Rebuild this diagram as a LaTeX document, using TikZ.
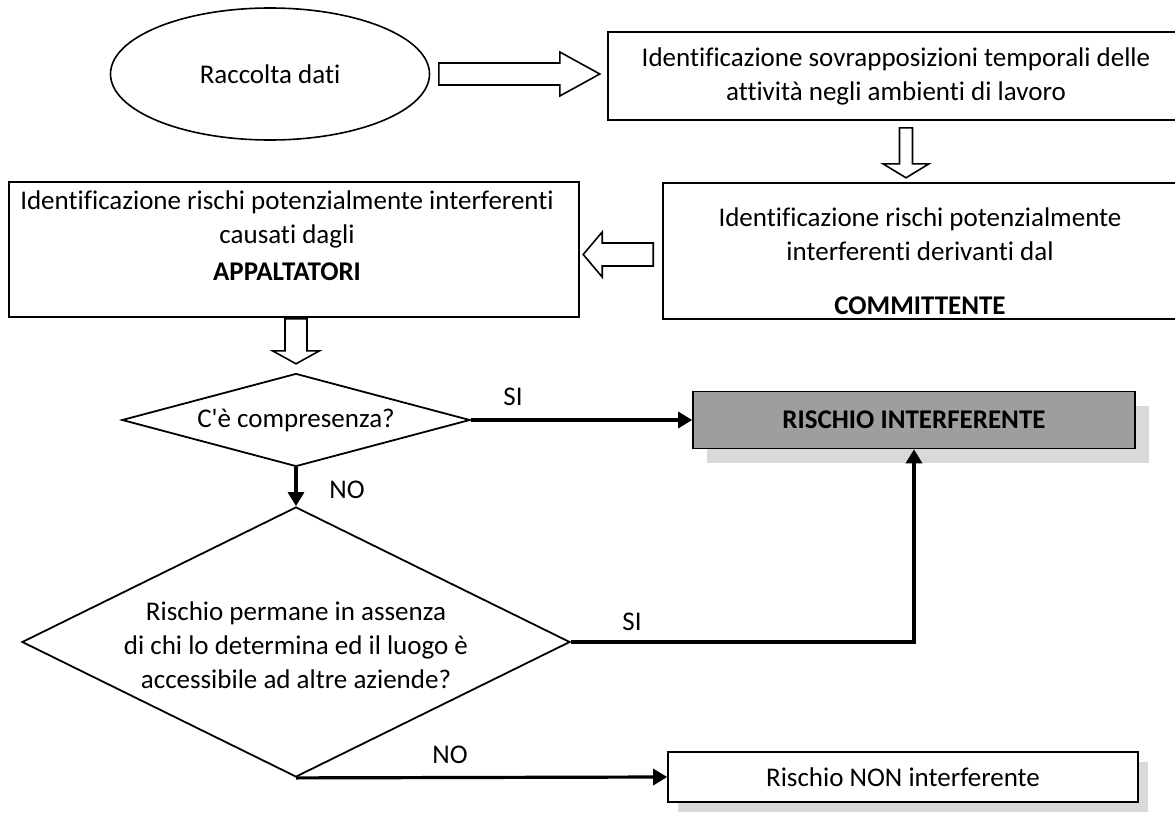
\documentclass[tikz,border=0pt]{standalone}
\usepackage{fontspec}
\setmainfont{Carlito}[Ligatures=NoCommon]
\usepackage{tikz}
\usetikzlibrary{arrows.meta,calc,shapes.geometric,shadows}

\tikzset{
  txt/.style={font=\fontsize{13.5}{17}\selectfont, align=center, inner sep=0pt},
  box/.style={draw, line width=0.8pt, fill=white, txt},
  dec/.style={draw, diamond, line width=0.9pt, txt},
  blk/.style={draw, line width=0.8pt, fill=white},
  conn/.style={line width=1.6pt, -{Triangle[length=7pt,width=8pt]}},
  shadowed/.style={drop shadow={fill=black!15, opacity=1, shadow xshift=#1, shadow yshift=-#1}},
  shadowed/.default=6pt
}

\begin{document}
\begin{tikzpicture}[x=0.5pt,y=-0.5pt]
\useasboundingbox (0,0) rectangle (1175,814);
\fill[white] (0,0) rectangle (1175,814);

\node[box,ellipse,minimum width=159.5pt,minimum height=66pt] (data) at (270,74) {Raccolta dati};
\node[box,minimum width=288pt,minimum height=44pt] (overlap) at (896,76) {Identificazione sovrapposizioni temporali delle\\attività negli ambienti di lavoro};
\node[box,minimum width=257.5pt,minimum height=68pt] (comm) at (920.5,251) {};
\node[txt] (commtxt) at (920,261.5) {Identificazione rischi potenzialmente\\interferenti derivanti dal\\[10pt]\textbf{COMMITTENTE}};
\node[box,minimum width=285pt,minimum height=67.5pt] (appalt) at (294,249.5) {};
\node[txt] (appalttxt) at (287,236) {Identificazione rischi potenzialmente interferenti\\causati dagli\\[1.5pt]\textbf{APPALTATORI}};

\node[dec,aspect=3.74,minimum width=174pt,minimum height=46.5pt] (pres) at (296,420) {C\textquotesingle è compresenza?};
\node[dec,minimum width=274pt,minimum height=135pt] (perm) at (296,642) {};
\node[txt] (permtxt) at (296,645) {Rischio permane in assenza\\di chi lo determina ed il luogo è\\accessibile ad altre aziende?};

\node[box,shadowed=7pt,fill=black!38,minimum width=221pt,minimum height=28.5pt] (interf) at (914,420) {\textbf{RISCHIO INTERFERENTE}};
\node[box,shadowed=5pt,minimum width=235pt,minimum height=25pt] (noninterf) at (903,777) {Rischio NON interferente};

\draw[blk] ($(data.east)+(8.5,-11)$) -- ++(121,0) -- ++(0,-11) -- ++(40,22) -- ++(-40,22) -- ++(0,-11) -- ++(-121,0) -- cycle;
\draw[blk] ($(overlap.south)+(3.5,7)$) -- ++(13,0) -- ++(0,36) -- ++(16.5,0) -- ++(-23,14) -- ++(-23,-14) -- ++(16.5,0) -- cycle;
\draw[blk] ($(comm.west)+(-9,-8)$) -- ++(-51,0) -- ++(0,-11) -- ++(-19,22.5) -- ++(19,22.5) -- ++(0,-11) -- ++(51,0) -- cycle;
\draw[blk] ($(appalt.south)+(-9,1)$) -- ++(22,0) -- ++(0,32) -- ++(12.5,0) -- ++(-23.5,13) -- ++(-23.5,-13) -- ++(12.5,0) -- cycle;

\draw[conn] (pres.east) -- (interf.west);
\draw[conn] (pres.south) -- (perm.north);
\draw[conn] (perm.east) -| (interf.south);
\draw[conn] (perm.south) -- (noninterf.west);

\node[txt] (si1) at (513,397) {SI};
\node[txt] (no1) at (347,490) {NO};
\node[txt] (si2) at (632,622) {SI};
\node[txt] (no2) at (450,755) {NO};
\end{tikzpicture}
\end{document}
